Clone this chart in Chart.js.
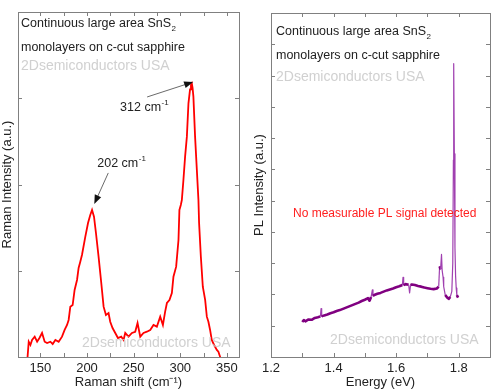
<!DOCTYPE html>
<html>
<head>
<meta charset="utf-8">
<script src="https://cdn.jsdelivr.net/npm/chart.js@4.4.1/dist/chart.umd.min.js"></script>
<style>
  html, body { margin: 0; padding: 0; background: #fff; }
  #wrap { position: relative; width: 498px; height: 390px; }
  canvas { position: absolute; top: 0; }
</style>
</head>
<body>
<div id="wrap">
  <canvas id="raman" width="249" height="390" style="left:0"></canvas>
  <canvas id="pl" width="249" height="390" style="left:249px"></canvas>
</div>
<script>
// Raman (gauche) : valeurs
const ramanShift = [136, 137.5, 139.3, 141.1, 143.9, 146.5, 149, 151.8, 154.6, 157.2, 160.7, 163.2, 166.1, 169.6, 173.2, 176, 178.6, 180.3, 182.1, 184.6, 186.7, 189.3, 191, 192.8, 194.6, 198.2, 201.1, 203.5, 205.4, 207.5, 209.6, 212.4, 215.3, 217.8, 220.3, 223.1, 224.9, 227.4, 230.3, 233.2, 236.7, 239.2, 241, 244.5, 248.2, 251.7, 254.2, 257.1, 260.6, 264.2, 267.8, 271.3, 274.9, 278.5, 281.4, 283.8, 285.7, 288.4, 291, 292.7, 295.6, 298.1, 299.1, 300.6, 301.7, 303.4, 305.2, 307.1, 308.8, 310.5, 311.5, 312.4, 313.2, 314.1, 315.9, 317.8, 319.5, 320.2, 322.1, 324.2, 326.7, 328.5, 330.2, 332, 333.8, 336.3, 339.2, 340.9, 342.7, 344.5];
const ramanIntensity = [560, 777, 738, 798, 837, 777, 821, 881, 777, 762, 777, 750, 798, 777, 837, 917, 976, 1036, 1194, 1214, 1393, 1512, 1655, 1730, 1810, 2027, 2190, 2286, 2345, 2265, 2071, 1789, 1476, 1194, 1095, 1119, 1015, 940, 881, 821, 837, 798, 881, 837, 881, 896, 1000, 837, 881, 896, 917, 976, 956, 1075, 976, 1135, 1238, 1274, 1357, 1551, 1670, 1988, 2345, 2405, 2464, 2702, 2980, 3218, 3615, 3780, 3835, 3853, 3800, 3694, 3218, 2821, 2464, 2190, 1789, 1432, 1274, 1075, 1015, 917, 798, 738, 679, 658, 599, 540];
const ramanTickLabels = [150, 200, 250, 300, 350];

// PL (droite)
const plEnergy = [1.300, 1.305, 1.31, 1.32, 1.33, 1.34, 1.35, 1.358, 1.360, 1.362, 1.37, 1.38, 1.39, 1.40, 1.41, 1.42, 1.43, 1.44, 1.45, 1.46, 1.47, 1.48, 1.49, 1.50, 1.51, 1.515, 1.52, 1.524, 1.526, 1.53, 1.54, 1.55, 1.56, 1.57, 1.58, 1.59, 1.60, 1.61, 1.62, 1.622, 1.624, 1.63, 1.64, 1.643, 1.646, 1.65, 1.66, 1.67, 1.68, 1.69, 1.70, 1.71, 1.72, 1.73, 1.736, 1.739, 1.742, 1.745, 1.747, 1.75, 1.752, 1.757, 1.763, 1.768, 1.773, 1.778, 1.781, 1.783, 1.784, 1.786, 1.788, 1.790, 1.792, 1.794, 1.798];
const plIntensity = [1.12, 1.18, 1.14, 1.20, 1.19, 1.25, 1.27, 1.30, 1.55, 1.30, 1.33, 1.36, 1.40, 1.43, 1.47, 1.50, 1.54, 1.58, 1.62, 1.66, 1.70, 1.74, 1.79, 1.83, 1.88, 1.80, 1.92, 2.15, 1.95, 1.98, 2.02, 2.05, 2.09, 2.13, 2.16, 2.19, 2.23, 2.26, 2.30, 2.55, 2.30, 2.33, 2.31, 2.05, 2.30, 2.32, 2.30, 2.27, 2.25, 2.22, 2.20, 2.18, 2.17, 2.19, 2.25, 2.90, 2.80, 3.28, 2.78, 2.55, 2.25, 1.98, 1.90, 1.86, 1.92, 2.10, 3.0, 6.3, 9.38, 6.5, 3.5, 2.6, 2.2, 1.98, 1.90];
const plTickLabels = ["1.2", "1.4", "1.6", "1.8"];

// Annotations des pics (unités des données)
const peakNames = ["202", "312"];
const peakShift = [207.8, 313.8];
const peakHeight = [2417, 3869];

const FONT = "'Liberation Sans', Arial, sans-serif";
Chart.defaults.font.family = FONT;
Chart.defaults.font.size = 13;
Chart.defaults.color = "#222";

// texte avec indice / exposant
function richText(ctx, x, y, main, small, shift, size, color) {
  ctx.save();
  ctx.fillStyle = color;
  ctx.textBaseline = "middle";
  ctx.textAlign = "left";
  ctx.font = size + "px " + FONT;
  ctx.fillText(main, x, y);
  if (small) {
    const w = ctx.measureText(main).width;
    ctx.font = Math.round(size * 0.62) + "px " + FONT;
    ctx.fillText(small, x + w + 0.5, y + shift);
  }
  ctx.restore();
}

function arrow(ctx, x0, y0, x1, y1) {
  const a = Math.atan2(y1 - y0, x1 - x0);
  ctx.save();
  ctx.strokeStyle = "#444";
  ctx.fillStyle = "#111";
  ctx.lineWidth = 0.8;
  ctx.beginPath();
  ctx.moveTo(x0, y0);
  ctx.lineTo(x1 - 6 * Math.cos(a), y1 - 6 * Math.sin(a));
  ctx.stroke();
  ctx.beginPath();
  ctx.moveTo(x1, y1);
  ctx.lineTo(x1 - 9 * Math.cos(a) + 3.5 * Math.sin(a), y1 - 9 * Math.sin(a) - 3.5 * Math.cos(a));
  ctx.lineTo(x1 - 9 * Math.cos(a) - 3.5 * Math.sin(a), y1 - 9 * Math.sin(a) + 3.5 * Math.cos(a));
  ctx.closePath();
  ctx.fill();
  ctx.restore();
}

// cadre + graduations vers l'intérieur
const framePlugin = {
  id: "frame",
  afterDraw(chart) {
    const ctx = chart.ctx;
    const a = chart.chartArea;
    const xs = chart.scales.x, ys = chart.scales.y;
    ctx.save();
    ctx.strokeStyle = "#808080";
    ctx.lineWidth = 1;
    ctx.strokeRect(Math.round(a.left) + 0.5, Math.round(a.top) + 0.5, Math.round(a.right - a.left), Math.round(a.bottom - a.top));
    ctx.beginPath();
    xs.ticks.forEach((t) => {
      const px = Math.round(xs.getPixelForValue(t.value)) + 0.5;
      ctx.moveTo(px, a.bottom); ctx.lineTo(px, a.bottom - 4);
      ctx.moveTo(px, a.top); ctx.lineTo(px, a.top + 4);
    });
    ys.ticks.forEach((t) => {
      const py = Math.round(ys.getPixelForValue(t.value)) + 0.5;
      ctx.moveTo(a.left, py); ctx.lineTo(a.left + 4, py);
      ctx.moveTo(a.right, py); ctx.lineTo(a.right - 4, py);
    });
    ctx.stroke();
    ctx.restore();
  },
};

function headerText(ctx, x, y) {
  richText(ctx, x, y, "Continuous large area SnS", "2", 5, 12.5, "#222");
  richText(ctx, x, y + 24, "monolayers on c-cut sapphire", "", 0, 12.5, "#222");
}

function watermark(ctx, x, y) {
  richText(ctx, x, y, "2Dsemiconductors USA", "", 0, 14, "rgba(200,200,200,0.85)");
}

// segments fins pour les pics étroits
const steep = (c) => Math.abs(c.p1.parsed.y - c.p0.parsed.y) > 0.15;

new Chart(document.getElementById("raman"), {
  type: "line",
  data: {
    datasets: [{
      data: ramanShift.map((x, i) => ({ x: x, y: ramanIntensity[i] })),
      borderColor: "#ff0000",
      borderWidth: 1.8,
      pointRadius: 0,
      tension: 0,
    }],
  },
  options: {
    responsive: false,
    animation: false,
    events: [],
    layout: { padding: { top: 12, right: 10, left: 0, bottom: 0 } },
    plugins: { legend: { display: false }, tooltip: { enabled: false } },
    scales: {
      x: {
        type: "linear",
        min: 126, max: 363,
        grid: { display: false, drawTicks: false },
        border: { display: false },
        ticks: {
          stepSize: 25, includeBounds: false, autoSkip: false, maxRotation: 0, padding: 4,
          callback: (v) => (ramanTickLabels.includes(v) ? String(v) : ""),
        },
        title: { display: true, text: "Raman shift (cm⁻¹)", padding: 0 },
        afterFit: (s) => { s.height = 33; },
      },
      y: {
        min: 595, max: 4702,
        grid: { display: false, drawTicks: false },
        border: { display: false },
        ticks: { display: false, stepSize: 1000, includeBounds: false },
        title: { display: true, text: "Raman Intensity (a.u.)", padding: 0 },
        afterFit: (s) => { s.width = 18; },
      },
    },
  },
  plugins: [framePlugin, {
    id: "ramanText",
    afterDraw(chart) {
      const ctx = chart.ctx;
      const xs = chart.scales.x, ys = chart.scales.y;
      headerText(ctx, 21, 24);
      watermark(ctx, 21, 66);
      watermark(ctx, 82, 343);
      // pic 202
      let tx = xs.getPixelForValue(peakShift[0]), ty = ys.getPixelForValue(peakHeight[0]);
      arrow(ctx, tx + 14, ty - 31, tx, ty);
      richText(ctx, tx + 3, ty - 40, peakNames[0] + " cm", "-1", -5, 12.5, "#222");
      // pic 312
      tx = xs.getPixelForValue(peakShift[1]); ty = ys.getPixelForValue(peakHeight[1]);
      arrow(ctx, tx - 46, ty + 15, tx, ty);
      richText(ctx, tx - 73, ty + 26, peakNames[1] + " cm", "-1", -5, 12.5, "#222");
    },
  }],
});

new Chart(document.getElementById("pl"), {
  type: "line",
  data: {
    datasets: [{
      data: plEnergy.map((x, i) => ({ x: x, y: plIntensity[i] })),
      borderColor: "#800080",
      borderWidth: 2.6,
      borderJoinStyle: "round",
      pointRadius: 0,
      tension: 0,
      segment: {
        borderWidth: (c) => (steep(c) ? 1.2 : 2.6),
        borderColor: (c) => (steep(c) ? "#a040b0" : "#800080"),
      },
    }],
  },
  options: {
    responsive: false,
    animation: false,
    events: [],
    layout: { padding: { top: 13, right: 8, left: 0, bottom: 0 } },
    plugins: { legend: { display: false }, tooltip: { enabled: false } },
    scales: {
      x: {
        type: "linear",
        min: 1.2, max: 1.9,
        grid: { display: false, drawTicks: false },
        border: { display: false },
        ticks: {
          stepSize: 0.1, includeBounds: false, autoSkip: false, maxRotation: 0, padding: 4,
          callback: (v) => (plTickLabels.includes(Number(v).toFixed(1)) ? Number(v).toFixed(1) : ""),
        },
        title: { display: true, text: "Energy (eV)", padding: 0 },
        afterFit: (s) => { s.height = 33; },
      },
      y: {
        min: 0, max: 11,
        grid: { display: false, drawTicks: false },
        border: { display: false },
        ticks: { display: false, stepSize: 1, includeBounds: false },
        title: { display: true, text: "PL Intensity (a.u.)", padding: { top: 3, bottom: 0 } },
        afterFit: (s) => { s.width = 22; },
      },
    },
  },
  plugins: [framePlugin, {
    id: "plText",
    afterDraw(chart) {
      const ctx = chart.ctx;
      headerText(ctx, 27, 32);
      watermark(ctx, 27, 77);
      watermark(ctx, 81, 340);
      richText(ctx, 44, 214, "No measurable PL signal detected", "", 0, 12, "#ff2020");
    },
  }],
});
</script>
</body>
</html>
